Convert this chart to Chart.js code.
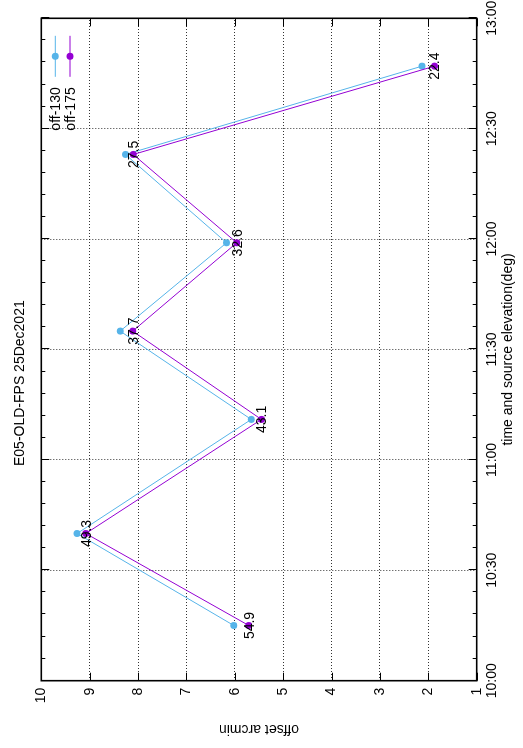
<!DOCTYPE html>
<html>
<head>
<meta charset="utf-8">
<script src="https://cdn.jsdelivr.net/npm/chart.js@4.4.0/dist/chart.umd.min.js"></script>
<style>
  html, body { margin: 0; padding: 0; background: #fff; overflow: hidden; }
  /* the plot is laid out landscape and turned a quarter turn counter-clockwise */
  #frame {
    position: absolute; left: 0; top: 0;
    width: 748px; height: 523px;
    transform-origin: 0 0;
    transform: translateY(748px) rotate(-90deg);
  }
  canvas { display: block; }
</style>
</head>
<body>
<div id="frame"><canvas id="c" width="748" height="523"></canvas></div>
<script>
// observation times (local) and pointing offsets in arcmin
const times      = ['10:15', '10:40', '11:11', '11:35', '11:59', '12:23', '12:47'];
const off130     = [6.02, 9.26, 5.66, 8.37, 6.17, 8.26, 2.13];
const off175     = [5.71, 9.08, 5.45, 8.11, 5.96, 8.10, 1.87];
const elevation  = ['54.9', '49.3', '43.1', '37.7', '32.6', '27.5', '22.4'];
const seriesNames = ['off-130', 'off-175'];
const timeTicks   = ['10:00', '10:30', '11:00', '11:30', '12:00', '12:30', '13:00'];
const offsetTicks = [1, 2, 3, 4, 5, 6, 7, 8, 9, 10];

const FONT = '"Liberation Sans", Arial, sans-serif';
const BLUE = '#56b4e9';
const PURPLE = '#9400d3';

const toMin = s => { const [h, m] = s.split(':').map(Number); return h * 60 + m; };
const fmt = v => { const h = Math.floor(v / 60), m = Math.round(v % 60); return h + ':' + String(m).padStart(2, '0'); };

const pts = vals => times.map((t, i) => ({ x: toMin(t), y: vals[i] }));

// frame, inward tick marks, point labels and key, drawn gnuplot-style
const decor = {
  id: 'decor',
  afterDatasetsDraw(chart) {
    const { ctx, chartArea: a, scales: { x, y } } = chart;
    ctx.save();
    ctx.strokeStyle = '#000';
    ctx.lineWidth = 1;
    // x ticks: majors every step, minors every fifth of a step
    const majors = timeTicks.map(toMin);
    const step = majors[1] - majors[0];
    for (let v = majors[0]; v <= majors[majors.length - 1] + 0.01; v += step / 5) {
      const isMajor = Math.abs((v - majors[0]) % step) < 0.01;
      const len = isMajor ? 8 : 4;
      const px = Math.round(x.getPixelForValue(v)) + 0.5;
      ctx.beginPath();
      ctx.moveTo(px, a.bottom); ctx.lineTo(px, a.bottom - len);
      ctx.moveTo(px, a.top); ctx.lineTo(px, a.top + len);
      ctx.stroke();
    }
    offsetTicks.forEach(v => {
      const py = Math.round(y.getPixelForValue(v)) + 0.5;
      ctx.beginPath();
      ctx.moveTo(a.left, py); ctx.lineTo(a.left + 8, py);
      ctx.moveTo(a.right, py); ctx.lineTo(a.right - 8, py);
      ctx.stroke();
    });
    // border
    ctx.lineWidth = 1.6;
    ctx.strokeRect(a.left, a.top, a.right - a.left, a.bottom - a.top);

    // source elevation labels at the off-175 points
    ctx.fillStyle = '#000';
    ctx.font = '14px ' + FONT;
    ctx.textAlign = 'center';
    ctx.textBaseline = 'middle';
    const meta = chart.getDatasetMeta(1);
    meta.data.forEach((p, i) => ctx.fillText(elevation[i], p.x, p.y + 1));

    // key (top right): right-aligned name, line sample, point
    const keyRight = a.right - 17.5;
    const sampleL = keyRight - 41;
    [BLUE, PURPLE].forEach((col, i) => {
      const ky = a.top + 14 + i * 14.7;
      ctx.fillStyle = '#000';
      ctx.textAlign = 'right';
      ctx.fillText(chart.data.datasets[i].label, sampleL - 10.5, ky + 1);
      ctx.strokeStyle = col;
      ctx.lineWidth = 1;
      ctx.beginPath();
      ctx.moveTo(sampleL, ky); ctx.lineTo(keyRight, ky);
      ctx.stroke();
      ctx.fillStyle = col;
      ctx.beginPath();
      ctx.arc((sampleL + keyRight) / 2, ky, 3.5, 0, Math.PI * 2);
      ctx.fill();
    });
    ctx.restore();
  }
};

Chart.defaults.font.family = FONT;
Chart.defaults.font.size = 14;
Chart.defaults.color = '#000';

new Chart(document.getElementById('c'), {
  type: 'line',
  data: {
    datasets: [
      { label: seriesNames[0], data: pts(off130), borderColor: BLUE, backgroundColor: BLUE,
        borderWidth: 1, pointRadius: 3.5, pointBorderWidth: 0, tension: 0, order: 2 },
      { label: seriesNames[1], data: pts(off175), borderColor: PURPLE, backgroundColor: PURPLE,
        borderWidth: 1, pointRadius: 3.5, pointBorderWidth: 0, tension: 0, order: 1 }
    ]
  },
  options: {
    responsive: false,
    animation: false,
    devicePixelRatio: 1,
    layout: { padding: { left: 0, right: 18.3, top: 0, bottom: 0 } },
    plugins: {
      legend: { display: false },
      tooltip: { enabled: false },
      title: {
        display: true, text: 'E05-OLD-FPS 25Dec2021',
        font: { size: 14, weight: 'normal', lineHeight: 1.2 },
        padding: { top: 11.6, bottom: 12.9 }
      }
    },
    scales: {
      x: {
        type: 'linear', position: 'bottom',
        min: toMin(timeTicks[0]), max: toMin(timeTicks[timeTicks.length - 1]),
        afterBuildTicks: s => { s.ticks = timeTicks.map(t => ({ value: toMin(t) })); },
        afterFit: s => { s.height = 46.3; s.paddingLeft = 0; s.paddingRight = 0; },
        ticks: { callback: v => fmt(v), autoSkip: false, maxRotation: 0, minRotation: 0, padding: 7 },
        grid: { color: 'rgba(0,0,0,0.8)', lineWidth: 1, drawTicks: false },
        border: { display: false, dash: [1, 2] },
        title: { display: true, text: 'time and source elevation(deg)', padding: { top: 0, bottom: 6.6 },
                 font: { size: 14, lineHeight: 1.2 } }
      },
      y: {
        type: 'linear', position: 'left',
        min: offsetTicks[0], max: offsetTicks[offsetTicks.length - 1],
        afterBuildTicks: s => { s.ticks = offsetTicks.map(v => ({ value: v })); },
        afterFit: s => { s.width = 67.3; s.paddingTop = 0; s.paddingBottom = 0; },
        ticks: { autoSkip: false, padding: 7 },
        grid: { color: 'rgba(0,0,0,0.8)', lineWidth: 1, drawTicks: false },
        border: { display: false, dash: [1, 2] },
        title: { display: true, text: 'offset arcmin', padding: { top: 10.6, bottom: 0 },
                 font: { size: 14, lineHeight: 1.2 } }
      }
    }
  },
  plugins: [decor]
});
</script>
</body>
</html>
